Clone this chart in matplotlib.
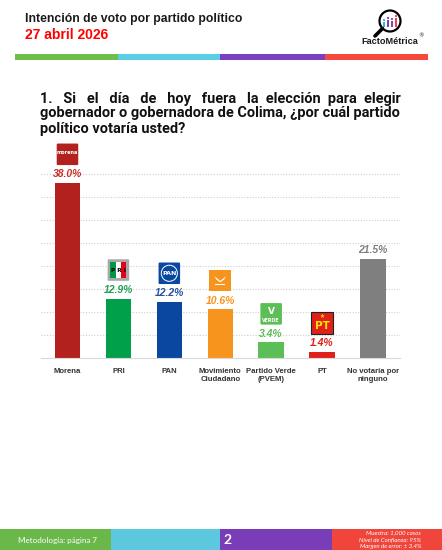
import matplotlib
matplotlib.use('Agg')
import matplotlib.pyplot as plt
from matplotlib.patches import Rectangle, FancyBboxPatch, Circle, Polygon
from matplotlib.offsetbox import DrawingArea, AnnotationBbox
from matplotlib.text import Text

# datos
partidos = ['Morena', 'PRI', 'PAN', 'Movimiento\nCiudadano', 'Partido Verde\n(PVEM)',
            'PT', 'No votaría por\nninguno']
votos = [38.0, 12.9, 12.2, 10.6, 3.4, 1.4, 21.5]
colores = ['#B3211E', '#00A04B', '#0A47A0', '#F7941D', '#5BBE57', '#E0201B', '#7F7F7F']
colores_txt = ['#C8302A', '#22A058', '#2452A0', '#F7941D', '#5BBE57', '#E0201B', '#7F7F7F']
logos = ['morena', 'pri', 'pan', 'mc', 'verde', 'pt', None]

titulo = 'Intención de voto por partido político'
fecha = '27 abril 2026'
pregunta = ['1. Si el día de hoy fuera la elección para elegir',
            'gobernador o gobernadora de Colima, ¿por cuál partido',
            'político votaría usted?']
ficha = ['Muestra: 1,000 casos', 'Nivel de Confianza: 95%', 'Margen de error: ± 3.4%']

W, H = 442, 550
fig = plt.figure(figsize=(W / 100, H / 100), dpi=100)

# capa de fondo en pixeles
bg = fig.add_axes([0, 0, 1, 1])
bg.set_xlim(0, W)
bg.set_ylim(H, 0)
bg.axis('off')

bg.text(25, 19, titulo, fontsize=8.8, fontweight='bold', family='Liberation Sans',
        va='center', color='#1a1a1a')
bg.text(25, 35, fecha, fontsize=10, fontweight='bold', family='Liberation Sans',
        va='center', color='#FF0000')

# franja de colores arriba
franja = [(15, 118, '#6DBE4B'), (118, 220, '#5ACFE3'), (220, 325, '#7B3FC2'), (325, 428, '#F44A3E')]
for x0, x1, c in franja:
    bg.add_patch(Rectangle((x0, 54), x1 - x0, 6, color=c, lw=0))

# logo FactoMetrica
bg.add_patch(Circle((390, 21), 10.5, fc='white', ec='black', lw=1.6))
bg.plot([382.5, 375], [28.5, 36], color='black', lw=2.6, solid_capstyle='round')
for bx, bh, c in [(384, 5, '#36B9CC'), (388, 7, '#7B3FC2'), (392, 6, '#8E44AD'), (396, 9, '#F2404A')]:
    bg.add_patch(Rectangle((bx - 1.2, 27 - bh), 2.4, bh, color=c, lw=0))
    bg.add_patch(Circle((bx, 27 - bh - 2), 1.1, color=c, lw=0))
bg.text(389.5, 41, 'FactoMétrica', fontsize=6.6, fontweight='bold', family='Liberation Sans',
        ha='center', va='center', color='#1a1a1a')
bg.text(421, 36, '®', fontsize=4, ha='center', va='center', color='#1a1a1a')

# pregunta justificada (una sola linea de texto, rellenando con espacios)
renderer = fig.canvas.get_renderer()
qfont = dict(fontweight='bold', family='Roboto', color='#111111', va='baseline')


def ancho(s, size):
    t = bg.text(0, 0, s, fontsize=size, **qfont)
    w = t.get_window_extent(renderer).width
    t.remove()
    return w


qsize = 10 * 362 / ancho(pregunta[1], 10)
w_esp = ancho('n n', qsize) - ancho('nn', qsize)
qx0, qx1 = 40, 402
for k, linea in enumerate(pregunta):
    yq = 102.5 + 15 * k
    palabras = linea.split(' ')
    if k < len(pregunta) - 1:
        extra = (qx1 - qx0) - ancho(linea, qsize)
        n_extra = max(0, int(extra / w_esp + 0.3))
        gaps = len(palabras) - 1
        partes = [palabras[0]]
        for g in range(gaps):
            n = 1 + n_extra // gaps + (1 if g < n_extra % gaps else 0)
            partes.append(' ' * n + palabras[g + 1])
        linea = ''.join(partes)
    bg.text(qx0, yq, linea, fontsize=qsize, **qfont)

# pie de pagina
pie = [(0, 111, '#6AB84A'), (111, 220, '#5BC8DE'), (220, 332, '#7A3DB8'), (332, 442, '#F0453A')]
for x0, x1, c in pie:
    bg.add_patch(Rectangle((x0, 529), x1 - x0, 21, color=c, lw=0))
bg.text(58, 540, 'Metodología: página 7', fontsize=5.8, family='Lato', color='white',
        ha='center', va='center')
bg.text(228, 539.5, '2', fontsize=10, fontweight='bold', family='Lato', color='white',
        ha='center', va='center')
for k, linea in enumerate(ficha):
    bg.text(421, 532.5 + 7 * k, linea, fontsize=4.4, fontstyle='italic', family='Lato',
            color='white', ha='right', va='center')

# grafica
ax = fig.add_axes([41 / W, 1 - 358 / H, (400 - 41) / W, (358 - 150.5) / H])
ax.patch.set_alpha(0)
x = range(len(partidos))
ax.bar(x, votos, width=0.5, color=colores, zorder=2)
ax.set_xlim(-0.52, 6.53)
ax.set_ylim(0, 45)
ax.set_yticks(range(5, 45, 5))
ax.yaxis.grid(True, ls=(0, (1, 1.5)), color='#CFCFCF', lw=0.8)
ax.set_axisbelow(True)
for s in ['top', 'right', 'left']:
    ax.spines[s].set_visible(False)
ax.spines['bottom'].set_color('#D9D9D9')
ax.tick_params(left=False, labelleft=False, bottom=False, pad=4)
ax.set_xticks(list(x))
ax.set_xticklabels(partidos, fontsize=5.6, fontweight='bold',
                   family=['Liberation Sans Narrow', 'Liberation Sans'],
                   color='#333333', linespacing=1.2)

for i, v in enumerate(votos):
    ax.annotate(f'{v:.1f}%', (i, v), xytext=(0, 6.2), textcoords='offset points',
                ha='center', va='center', fontsize=7.5, fontweight='bold', fontstyle='italic',
                family='Liberation Sans', color=colores_txt[i])


def logo(kind):
    s = 15.5
    da = DrawingArea(s, s, 0, 0)
    if kind == 'morena':
        da.add_artist(FancyBboxPatch((0.8, 0.8), s - 1.6, s - 1.6, boxstyle='round,pad=0.8',
                                     fc='#B3211E', ec='none'))
        da.add_artist(Text(s / 2, s / 2 + 1, 'morena', color='white', fontsize=3.6,
                           ha='center', va='center', fontweight='bold'))
    elif kind == 'pri':
        da.add_artist(FancyBboxPatch((0.8, 0.8), s - 1.6, s - 1.6, boxstyle='round,pad=0.8',
                                     fc='#A8A8A8', ec='none'))
        for j, c in enumerate(['#009846', 'white', '#E3001B']):
            da.add_artist(Rectangle((2 + j * 3.83, 2), 3.83, s - 4, fc=c, ec='none'))
        da.add_artist(Text(s / 2, s / 2, 'P R I', color='black', fontsize=4.2,
                           ha='center', va='center', fontweight='bold'))
    elif kind == 'pan':
        da.add_artist(FancyBboxPatch((0.8, 0.8), s - 1.6, s - 1.6, boxstyle='round,pad=0.8',
                                     fc='#0A47A0', ec='none'))
        da.add_artist(Circle((s / 2, s / 2), 5.8, fc='none', ec='white', lw=0.7))
        da.add_artist(Text(s / 2, s / 2, 'PAN', color='white', fontsize=4.6,
                           ha='center', va='center', fontweight='bold'))
    elif kind == 'mc':
        da.add_artist(Rectangle((0, 0), s, s, fc='#F7941D', ec='none'))
        da.add_artist(Polygon([(3.5, 11), (s / 2, 7.5), (s - 3.5, 11), (s - 5, 8.5),
                               (s / 2, 6.5), (5, 8.5)], closed=True, fc='white', ec='none'))
        da.add_artist(Rectangle((4, 4.5), s - 8, 0.8, fc='white', ec='none'))
    elif kind == 'verde':
        da.add_artist(FancyBboxPatch((0.8, 0.8), s - 1.6, s - 1.6, boxstyle='round,pad=0.8',
                                     fc='#5BBE57', ec='none'))
        da.add_artist(Text(s / 2, 9.5, 'V', color='white', fontsize=6.5,
                           ha='center', va='center', fontweight='bold'))
        da.add_artist(Text(s / 2, 3.3, 'VERDE', color='white', fontsize=3.4,
                           ha='center', va='center', fontweight='bold'))
    elif kind == 'pt':
        da.add_artist(Rectangle((0, 0), s, s, fc='#E0201B', ec='#222222', lw=0.8))
        da.add_artist(Text(s / 2, 6, 'PT', color='#FFE600', fontsize=7.5,
                           ha='center', va='center', fontweight='bold'))
        da.add_artist(Text(s / 2, 12.3, '★', color='#FFE600', fontsize=4,
                           ha='center', va='center'))
    return da


for i, v in enumerate(votos):
    if logos[i] is None:
        continue
    ab = AnnotationBbox(logo(logos[i]), (i, v), xybox=(0, 20.5), xycoords='data',
                        boxcoords='offset points', frameon=False, pad=0)
    ax.add_artist(ab)

fig.savefig('out.png', dpi=100)
